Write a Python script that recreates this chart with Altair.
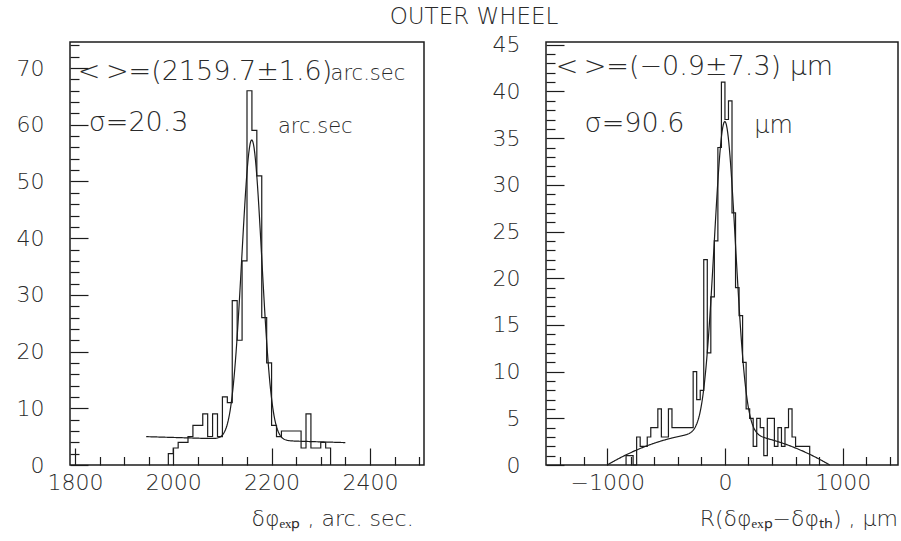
import altair as alt
import numpy as np
import pandas as pd

FONT = "DejaVu Sans"
INK = "#1c1c1c"
TXT = "#2a2a2a"

# ---------------- left panel: delta-phi (exp), arc sec ----------------
L_START = 1990
L_WIDTH = 10
L_COUNTS = [2, 3, 4, 4, 5, 7, 7, 9, 5, 9, 5, 12, 11, 29, 22, 36, 66, 59, 51,
            26, 18, 7, 5, 6, 6, 6, 6, 3, 9, 3, 3, 4, 3]
L_XDOM = [1790, 2510]
L_YDOM = [0, 74.6]
L_XLABELS = [1800, 2000, 2200, 2400]
L_YLABELS = [0, 10, 20, 30, 40, 50, 60, 70]
L_XTICKS = list(range(1800, 2501, 50))
L_YTICKS = list(range(0, 75, 2))
L_XMAJOR, L_YMAJOR = 200, 10
# fitted gaussian over a linear background
L_MEAN, L_SIGMA, L_AMP = 2159.7, 20.3, 52.9
L_FIT_RANGE = [1945, 2350]
L_BG_ENDS = [5.0, 3.95]

# ---------------- right panel: R(dphi_exp - dphi_th), micron ----------------
R_START = -840
R_WIDTH = 30
R_COUNTS = [1, 1, 0, 3, 2, 2, 3, 4, 4, 6, 3, 3, 6, 4, 4, 4, 4, 4, 4,
            10, 7, 8, 22, 12, 18, 24, 34, 41, 37, 39, 27, 19, 16, 11, 6, 5,
            2, 5, 4, 1, 5, 5, 2, 4, 2, 4, 6, 3, 2, 2, 2, 2]
R_XDOM = [-1520, 1470]
R_YDOM = [0, 45.3]
R_XLABELS = [-1000, 0, 1000]
R_YLABELS = [0, 5, 10, 15, 20, 25, 30, 35, 40, 45]
R_XTICKS = list(range(-1400, 1401, 200))
R_YTICKS = list(range(0, 46, 1))
R_XMAJOR, R_YMAJOR = 1000, 5
# fitted gaussian over a parabolic background
R_MEAN, R_SIGMA, R_AMP = -0.9, 90.6, 33.3
R_FIT_RANGE = [-1000, 890]
R_BG_TOP = 3.5

W_L, W_R, H = 354, 352, 423


def step_outline(start, width, counts):
    edges = start + width * np.arange(len(counts) + 1)
    xs = [edges[0]] + list(edges[:-1]) + [edges[-1], edges[-1]]
    ys = [0] + list(counts) + [counts[-1], 0]
    return pd.DataFrame({"x": xs, "y": ys, "i": np.arange(len(xs))})


def left_fit():
    x = np.linspace(L_FIT_RANGE[0], L_FIT_RANGE[1], 300)
    bg = L_BG_ENDS[0] + (x - L_FIT_RANGE[0]) * (L_BG_ENDS[1] - L_BG_ENDS[0]) / (L_FIT_RANGE[1] - L_FIT_RANGE[0])
    y = L_AMP * np.exp(-0.5 * ((x - L_MEAN) / L_SIGMA) ** 2) + bg
    return pd.DataFrame({"x": x, "y": y})


def right_fit():
    r1, r2 = R_FIT_RANGE
    x = np.linspace(r1, r2, 400)
    half = (r2 - r1) / 2.0
    bg = R_BG_TOP * (x - r1) * (r2 - x) / half ** 2
    y = R_AMP * np.exp(-0.5 * ((x - R_MEAN) / R_SIGMA) ** 2) + bg
    return pd.DataFrame({"x": x, "y": np.clip(y, 0, None)})


def inward_tick_axis(orient, offset, values, major_every, major_len, minor_len):
    """An unlabeled axis moved onto the opposite frame edge so its ticks point into the plot."""
    return alt.Axis(orient=orient, offset=offset, values=values, labels=False, domain=False,
                    grid=False, title=None, ticks=True, tickColor=INK, tickWidth=1.2,
                    tickSize={"condition": {"test": f"datum.value % {major_every} === 0",
                                            "value": major_len},
                              "value": minor_len})


def panel(counts_df, fit_df, xdom, ydom, xlabels, ylabels, xticks, xmajor, yticks, ymajor,
          notes, axis_title, width):
    xs = alt.Scale(domain=xdom, nice=False, zero=False)
    ys = alt.Scale(domain=ydom, nice=False, zero=False)
    xaxis = alt.Axis(orient="bottom", values=xlabels, format="d", ticks=False, domain=False,
                     grid=False, labelFont=FONT, labelFontWeight=200, labelFontSize=22,
                     labelColor=TXT, labelPadding=7, title=None, labelFlush=False)
    yaxis = alt.Axis(orient="left", values=ylabels, format="d", ticks=False, domain=False,
                     grid=False, labelFont=FONT, labelFontWeight=200, labelFontSize=22,
                     labelColor=TXT, labelPadding=26, title=None)

    hist = alt.Chart(counts_df).mark_line(interpolate="step-after", color=INK, strokeWidth=1.2).encode(
        x=alt.X("x:Q", scale=xs, axis=xaxis),
        y=alt.Y("y:Q", scale=ys, axis=yaxis),
        order="i:Q",
    )
    # the fit layer carries the tick-only axes (top axis shifted to the bottom edge,
    # right axis shifted to the left edge)
    fit = alt.Chart(fit_df).mark_line(color=INK, strokeWidth=1.2).encode(
        x=alt.X("x:Q", scale=xs, axis=inward_tick_axis("top", -H, xticks, xmajor, 17, 8.5)),
        y=alt.Y("y:Q", scale=ys, axis=inward_tick_axis("right", -width, yticks, ymajor, 18, 9)),
    )

    note_layer = alt.Chart(notes).mark_text(align="left", baseline="middle", font=FONT,
                                            fontWeight=200, color=TXT).encode(
        x=alt.X("x:Q", scale=xs, axis=None), y=alt.Y("y:Q", scale=ys, axis=None), text="t:N",
        size=alt.Size("s:Q", scale=None, legend=None))
    title_layer = alt.Chart(axis_title).mark_text(align="right", baseline="alphabetic", font=FONT,
                                                  fontWeight=200, fontSize=22, color=TXT).encode(
        x=alt.X("x:Q", scale=xs, axis=None), y=alt.value(H + 61), text="t:N")

    return alt.layer(hist, fit, note_layer, title_layer).resolve_axis(
        x="independent", y="independent").properties(width=width, height=H)


left_notes = pd.DataFrame({
    "x": [1806, 2320, 1828, 2213],
    "y": [69.3, 68.9, 60.3, 59.6],
    "t": ["<\u2009>=(2159.7\u00b11.6)", "arc.sec", "\u03c3=20.3", "arc.sec"],
    "s": [27, 21, 27, 21],
})
left_axis_title = pd.DataFrame({"x": [2489], "t": ["\u03b4\u03c6\u2091\u2093\u209a , arc. sec."]})

right_notes = pd.DataFrame({
    "x": [-1438, -1192, 248],
    "y": [42.6, 36.5, 36.3],
    "t": ["<\u2009>=(\u22120.9\u00b17.3) \u03bcm", "\u03c3=90.6", "\u03bcm"],
    "s": [27, 27, 24],
})
right_axis_title = pd.DataFrame({"x": [1470],
                                 "t": ["R(\u03b4\u03c6\u2091\u2093\u209a\u2212\u03b4\u03c6\u209c\u2095) , \u03bcm"]})

left = panel(step_outline(L_START, L_WIDTH, L_COUNTS), left_fit(), L_XDOM, L_YDOM,
             L_XLABELS, L_YLABELS, L_XTICKS, L_XMAJOR, L_YTICKS, L_YMAJOR,
             left_notes, left_axis_title, W_L)
right = panel(step_outline(R_START, R_WIDTH, R_COUNTS), right_fit(), R_XDOM, R_YDOM,
              R_XLABELS, R_YLABELS, R_XTICKS, R_XMAJOR, R_YTICKS, R_YMAJOR,
              right_notes, right_axis_title, W_R)

chart = alt.hconcat(left, right, spacing=66).properties(
    title=alt.TitleParams("OUTER WHEEL", font=FONT, fontSize=23, fontWeight=200,
                          color=TXT, anchor="middle", dx=17, offset=4),
    padding={"left": 15, "top": 6, "right": 2, "bottom": 2},
    background="white",
).configure_view(stroke=INK, strokeWidth=1.5)

chart.save("out.html", embed_options={"renderer": "svg", "actions": False})
